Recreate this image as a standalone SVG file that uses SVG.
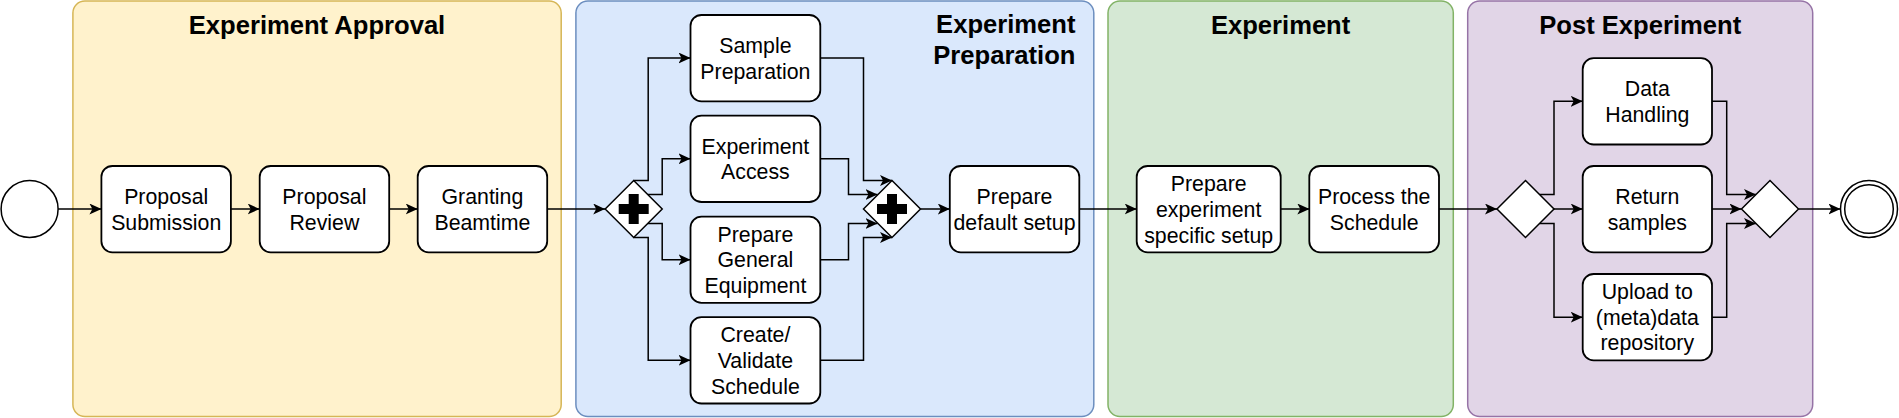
<svg xmlns="http://www.w3.org/2000/svg" width="1899" height="418" viewBox="0 0 1899 418">
<defs>
<style>
.lane{stroke-width:1.5}
.title{font-family:"Liberation Sans",Arial,sans-serif;font-weight:bold;font-size:25.6px;fill:#000}
.box{fill:#fff;stroke:#000;stroke-width:1.8}
.gw{fill:#fff;stroke:#000;stroke-width:1.5}
.lbl{font-family:"Liberation Sans",Arial,sans-serif;font-size:21.3px;fill:#000;text-anchor:middle}
.conn{fill:none;stroke:#000;stroke-width:1.5}
</style>
<marker id="arr" viewBox="0 0 12 11" refX="12" refY="5.5" markerWidth="12" markerHeight="11" markerUnits="userSpaceOnUse" orient="auto">
<path d="M0,0 L12,5.5 L0,11 L3,5.5 Z" fill="#000"/>
</marker>
</defs>
<rect width="1899" height="418" fill="#fff"/>

<g id="lane-approval">
<rect class="lane" x="72.9" y="1" width="488.3" height="415.5" rx="12" fill="#fff2cc" stroke="#d6b656"/>
<text class="title" x="317" y="33.5" text-anchor="middle">Experiment Approval</text>
</g>
<g id="lane-preparation">
<rect class="lane" x="575.9" y="1" width="517.9" height="415.5" rx="12" fill="#dae8fc" stroke="#6c8ebf"/>
<text class="title" text-anchor="end"><tspan x="1075.5" y="33">Experiment</tspan><tspan x="1075.5" y="64.3">Preparation</tspan></text>
</g>
<g id="lane-experiment">
<rect class="lane" x="1108" y="1" width="345.3" height="415.5" rx="12" fill="#d5e8d4" stroke="#82b366"/>
<text class="title" x="1280.6" y="33.5" text-anchor="middle">Experiment</text>
</g>
<g id="lane-post">
<rect class="lane" x="1467.7" y="1" width="345" height="415.5" rx="12" fill="#e1d5e7" stroke="#9673a6"/>
<text class="title" x="1640.2" y="33.5" text-anchor="middle">Post Experiment</text>
</g>

<g id="connectors" marker-end="url(#arr)">
<path class="conn" d="M58.1,209 H101.4"/>
<path class="conn" d="M230.9,209 H259.7"/>
<path class="conn" d="M389.2,209 H417.7"/>
<path class="conn" d="M547.2,209 H605.2"/>
<path class="conn" d="M633.7,180.5 H648.2 V58 H690.5"/>
<path class="conn" d="M647.7,194.5 H662.2 V158.8 H690.5"/>
<path class="conn" d="M647.7,223.5 H662.2 V259.7 H690.5"/>
<path class="conn" d="M633.7,237.5 H648.2 V360.3 H690.5"/>
<path class="conn" d="M820.3,58 H863.5 V180.5 H892"/>
<path class="conn" d="M820.3,158.8 H848.5 V194.5 H877.5"/>
<path class="conn" d="M820.3,259.7 H848.5 V223.5 H877.5"/>
<path class="conn" d="M820.3,360.3 H863.5 V237.5 H892"/>
<path class="conn" d="M920.5,209 H949.8"/>
<path class="conn" d="M1079.3,209 H1136.7"/>
<path class="conn" d="M1280.7,209 H1309.3"/>
<path class="conn" d="M1439,209 H1497"/>
<path class="conn" d="M1539.5,194.5 H1554 V101.3 H1582.7"/>
<path class="conn" d="M1554,209 H1582.7"/>
<path class="conn" d="M1539.5,223.5 H1554 V317.2 H1582.7"/>
<path class="conn" d="M1712,101.3 H1726.7 V194.5 H1756"/>
<path class="conn" d="M1712,209 H1741.5"/>
<path class="conn" d="M1712,317.2 H1726.7 V223.5 H1756"/>
<path class="conn" d="M1798.5,209 H1840.5"/>
</g>

<g id="start">
<circle cx="29.6" cy="209" r="28.5" fill="#fff" stroke="#000" stroke-width="1.5"/>
</g>
<g id="proposal-submission">
<rect class="box" x="101.4" y="166" width="129.5" height="86.3" rx="11"/>
<text class="lbl"><tspan x="166.2" y="203.8">Proposal</tspan><tspan x="166.2" y="229.5">Submission</tspan></text>
</g>
<g id="proposal-review">
<rect class="box" x="259.7" y="166" width="129.5" height="86.3" rx="11"/>
<text class="lbl"><tspan x="324.4" y="203.8">Proposal</tspan><tspan x="324.4" y="229.5">Review</tspan></text>
</g>
<g id="granting-beamtime">
<rect class="box" x="417.7" y="166" width="129.5" height="86.3" rx="11"/>
<text class="lbl"><tspan x="482.4" y="203.8">Granting</tspan><tspan x="482.4" y="229.5">Beamtime</tspan></text>
</g>
<g id="fork-parallel">
<path class="gw" d="M633.7,180.5 L662.2,209 L633.7,237.5 L605.2,209 Z"/>
<path d="M628.7,194 H638.7 V204 H648.7 V214 H638.7 V224 H628.7 V214 H618.7 V204 H628.7 Z" fill="#000"/>
</g>
<g id="sample-preparation">
<rect class="box" x="690.5" y="15" width="129.8" height="86.3" rx="11"/>
<text class="lbl"><tspan x="755.4" y="52.8">Sample</tspan><tspan x="755.4" y="78.5">Preparation</tspan></text>
</g>
<g id="experiment-access">
<rect class="box" x="690.5" y="115.7" width="129.8" height="86.3" rx="11"/>
<text class="lbl"><tspan x="755.4" y="153.6">Experiment</tspan><tspan x="755.4" y="179.3">Access</tspan></text>
</g>
<g id="prepare-general-equipment">
<rect class="box" x="690.5" y="216.6" width="129.8" height="86.3" rx="11"/>
<text class="lbl"><tspan x="755.4" y="241.7">Prepare</tspan><tspan x="755.4" y="267.4">General</tspan><tspan x="755.4" y="293.1">Equipment</tspan></text>
</g>
<g id="create-validate-schedule">
<rect class="box" x="690.5" y="317.2" width="129.8" height="86.3" rx="11"/>
<text class="lbl"><tspan x="755.4" y="342.2">Create/</tspan><tspan x="755.4" y="367.9">Validate</tspan><tspan x="755.4" y="393.6">Schedule</tspan></text>
</g>
<g id="join-parallel">
<path class="gw" d="M892,180.5 L920.5,209 L892,237.5 L863.5,209 Z"/>
<path d="M887,194 H897 V204 H907 V214 H897 V224 H887 V214 H877 V204 H887 Z" fill="#000"/>
</g>
<g id="prepare-default-setup">
<rect class="box" x="949.8" y="166" width="129.5" height="86.3" rx="11"/>
<text class="lbl"><tspan x="1014.5" y="203.8">Prepare</tspan><tspan x="1014.5" y="229.5">default setup</tspan></text>
</g>
<g id="prepare-experiment-specific-setup">
<rect class="box" x="1136.7" y="166" width="144" height="86.3" rx="11"/>
<text class="lbl"><tspan x="1208.7" y="191.2">Prepare</tspan><tspan x="1208.7" y="216.9">experiment</tspan><tspan x="1208.7" y="242.6">specific setup</tspan></text>
</g>
<g id="process-the-schedule">
<rect class="box" x="1309.3" y="166" width="129.7" height="86.3" rx="11"/>
<text class="lbl"><tspan x="1374.2" y="203.8">Process the</tspan><tspan x="1374.2" y="229.5">Schedule</tspan></text>
</g>
<g id="fork-exclusive">
<path class="gw" d="M1525.5,180.5 L1554,209 L1525.5,237.5 L1497,209 Z"/>
</g>
<g id="data-handling">
<rect class="box" x="1582.7" y="58.2" width="129.3" height="86.3" rx="11"/>
<text class="lbl"><tspan x="1647.3" y="96">Data</tspan><tspan x="1647.3" y="121.7">Handling</tspan></text>
</g>
<g id="return-samples">
<rect class="box" x="1582.7" y="166" width="129.3" height="86.3" rx="11"/>
<text class="lbl"><tspan x="1647.3" y="203.8">Return</tspan><tspan x="1647.3" y="229.5">samples</tspan></text>
</g>
<g id="upload-repository">
<rect class="box" x="1582.7" y="274" width="129.3" height="86.3" rx="11"/>
<text class="lbl"><tspan x="1647.3" y="299">Upload to</tspan><tspan x="1647.3" y="324.7">(meta)data</tspan><tspan x="1647.3" y="350.4">repository</tspan></text>
</g>
<g id="join-exclusive">
<path class="gw" d="M1770,180.5 L1798.5,209 L1770,237.5 L1741.5,209 Z"/>
</g>
<g id="end">
<circle cx="1869" cy="209" r="28.5" fill="#fff" stroke="#000" stroke-width="1.5"/>
<circle cx="1869" cy="209" r="24.3" fill="none" stroke="#000" stroke-width="1.5"/>
</g>
</svg>
